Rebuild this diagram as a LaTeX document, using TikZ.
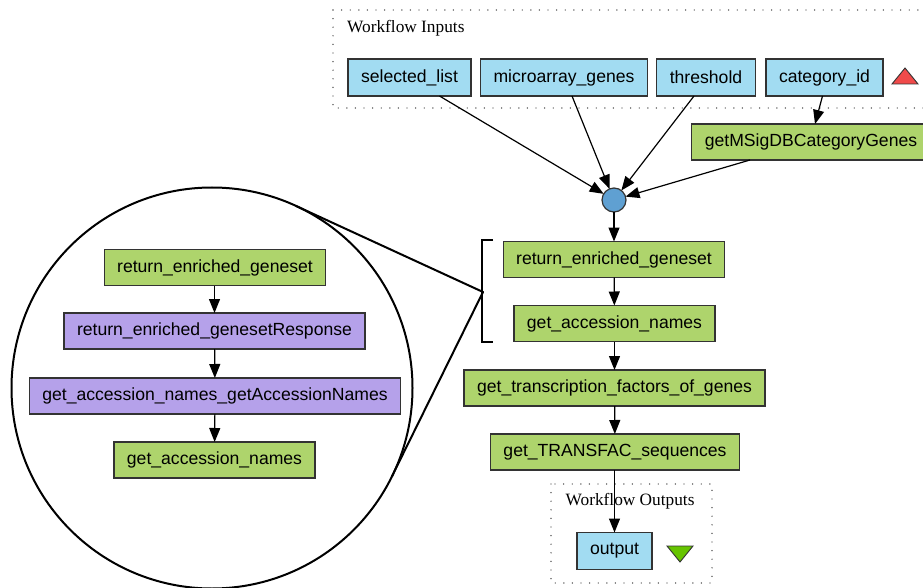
\documentclass[tikz,border=0pt]{standalone}
\usepackage{fontspec}
\setmainfont{Liberation Sans}
\newfontfamily\groupfont{Liberation Serif}
\usetikzlibrary{arrows.meta,calc}

\definecolor{inblue}{HTML}{A2DCF2}
\definecolor{procgreen}{HTML}{AED46C}
\definecolor{shimpurple}{HTML}{B5A1EA}
\definecolor{mergeblue}{HTML}{5FA0D2}
\definecolor{boxline}{HTML}{333333}
\definecolor{upred}{HTML}{F04A4A}
\definecolor{downgreen}{HTML}{66C400}

\begin{document}
\begin{tikzpicture}[x=1pt,y=-1pt,
  box/.style={draw=boxline, line width=1.2pt, minimum height=36pt,
    inner xsep=13pt, inner ysep=0pt, outer sep=0pt,
    font=\fontsize{17.6}{20}\selectfont},
  inport/.style={box, fill=inblue, minimum height=37pt},
  proc/.style={box, fill=procgreen},
  shim/.style={box, fill=shimpurple},
  link/.style={line width=1.2pt, -{Triangle[length=14pt,width=11pt]}},
  grp/.style={line width=1.4pt, dash pattern=on 0pt off 8.6pt, line cap=round, draw=black!80},
  grplabel/.style={anchor=west, inner sep=0pt, font=\groupfont\fontsize{17.3}{20}\selectfont},
  lensline/.style={line width=2pt}]

\useasboundingbox (0,0) rectangle (923,588);
\clip (0,0) rectangle (923,588);

% ---- workflow inputs group ----
\draw[grp] (333,10) -- (940,10);
\draw[grp] (333,10) -- (333,108) -- (940,108);
\node[grplabel] (inlabel) at (347,28) {Workflow Inputs};

\node[inport] (sel) at (409.5,77.5) {selected\_list};
\node[inport] (mic) at (564,77.5) {microarray\_genes};
\node[inport] (thr) at (706,77.5) {threshold};
\node[inport] (cat) at (824.5,77.5) {category\_id};
\draw[fill=upred, draw=boxline, line width=0.9pt] (892,84) -- (918,84) -- (905,68) -- cycle;

\node[proc] (msig) at (811,142) {getMSigDBCategoryGenes};

% ---- merge point ----
\node[circle, draw=boxline, line width=1.2pt, fill=mergeblue, minimum size=24pt,
      inner sep=0pt, outer sep=0pt] (merge) at (614,200) {};

\draw[link] ([xshift=30pt]sel.south) -- (merge);
\draw[link] ([xshift=8pt]mic.south) -- (merge);
\draw[link] ([xshift=-12pt]thr.south) -- (merge);
\draw[link] ([xshift=-2pt]cat.south) -- ([xshift=4pt]msig.north);
\draw[link] ([xshift=-61pt]msig.south) -- (merge);

% ---- main chain ----
\node[proc] (reg) at (614,259.5) {return\_enriched\_geneset};
\node[proc] (gan) at (614.5,323.5) {get\_accession\_names};
\node[proc] (gtf) at (614.5,388) {get\_transcription\_factors\_of\_genes};
\node[proc] (gts) at (615,452) {get\_TRANSFAC\_sequences};

\draw[link] (merge) -- (merge |- reg.north);
\draw[link] (reg) -- (gan);
\draw[link] (gan) -- (gtf);
\draw[link] (gtf) -- (gts);

% ---- workflow outputs group ----
\draw[grp] (551,484) rectangle (712,583);
\node[grplabel] (outlabel) at (565.5,501) {Workflow Outputs};
\node[inport] (out) at (614.5,551) {output};
\draw[fill=downgreen, draw=boxline, line width=0.9pt] (667,546) -- (693,546) -- (680,562) -- cycle;
\draw[link] (gts.south -| out.north) -- (out.north);

% ---- bracket and magnified view ----
\coordinate (brk) at (483,292);
\draw[lensline] (493,240) -- (482,240) -- (482,342) -- (493,342);
\node[circle, draw, lensline, minimum size=401pt, inner sep=0pt, outer sep=0pt] (lens) at (212,388) {};
\draw[lensline, line join=round] (tangent cs:node=lens,point={(brk)},solution=1) -- (brk)
      -- (tangent cs:node=lens,point={(brk)},solution=2);

\node[proc] (ireg) at (215,267.5) {return\_enriched\_geneset};
\node[shim] (iresp) at (214.5,331) {return\_enriched\_genesetResponse};
\node[shim] (igacc) at (215,396) {get\_accession\_names\_getAccessionNames};
\node[proc] (igan) at (214.5,460) {get\_accession\_names};

\draw[link] (ireg.south -| iresp.north) -- (iresp.north);
\draw[link] (iresp) -- (igacc);
\draw[link] (igacc) -- (igan);
\end{tikzpicture}
\end{document}
